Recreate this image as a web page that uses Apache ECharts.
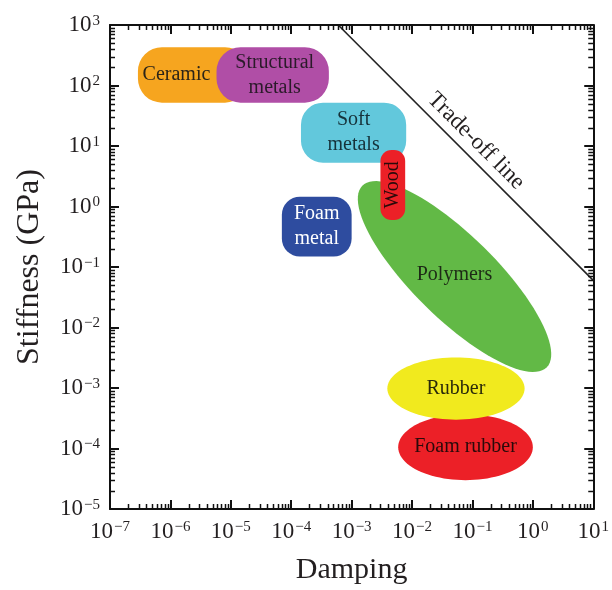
<!DOCTYPE html>
<html>
<head>
<meta charset="utf-8">
<script src="https://cdn.jsdelivr.net/npm/echarts@6/dist/echarts.min.js"></script>
<style>
html, body { margin: 0; padding: 0; background: #fff; }
#chart { width: 612px; height: 590px; }
</style>
</head>
<body>
<div id="chart"></div>
<script>
// Material families on a damping–stiffness map (log–log axes)
const materials     = ['Ceramic', 'Structural metals', 'Soft metals', 'Foam metal', 'Polymers', 'Wood', 'Foam rubber', 'Rubber'];
const dampingLow    = [2.9e-7, 5.8e-6, 1.45e-4, 7.0e-5, 1.5e-3, 3.0e-3, 5.9e-3, 3.9e-3];
const dampingHigh   = [2.0e-5, 4.2e-4, 8.0e-3, 1.0e-3, 1.7, 7.7e-3, 1.0, 0.73];
const stiffnessLow  = [52, 52, 5.3, 0.149, 2.2e-3, 0.6, 3.0e-5, 3.0e-4];
const stiffnessHigh = [430, 430, 52, 1.45, 2.2, 8.6, 3.7e-4, 3.2e-3];

// Trade-off line (stiffness × damping ≈ constant)
const tradeOffDamping   = [6e-4, 10];
const tradeOffStiffness = [1000, 0.06];

// Decade exponents shown as tick labels
const dampingExponents   = [-7, -6, -5, -4, -3, -2, -1, 0, 1];
const stiffnessExponents = [-5, -4, -3, -2, -1, 0, 1, 2, 3];

const FONT = "'Liberation Serif', 'DejaVu Serif', 'Times New Roman', serif";
const INK = '#231f20';

const looks = {
  'Ceramic':           { shape: 'box',    fill: '#F6A51F', r: 24, ink: '#2b2418', text: 'Ceramic', dx: -17 },
  'Structural metals': { shape: 'box',    fill: '#B04EA6', r: 24, ink: '#2b1a2a', text: 'Structural\nmetals', dx: 2 },
  'Soft metals':       { shape: 'box',    fill: '#62C8DC', r: 22, ink: '#16323a', text: 'Soft\nmetals' },
  'Foam metal':        { shape: 'box',    fill: '#2E4C9F', r: 18, ink: '#ffffff', text: 'Foam\nmetal' },
  'Polymers':          { shape: 'tilted', fill: '#62B946', ratio: 0.32, ink: '#1d2a16', text: 'Polymers', dy: -2 },
  'Wood':              { shape: 'box',    fill: '#EC2027', r: 11, ink: '#2a0a0a', text: 'Wood', vertical: true },
  'Foam rubber':       { shape: 'oval',   fill: '#EC2027', ink: '#2a0a0a', text: 'Foam rubber' },
  'Rubber':            { shape: 'oval',   fill: '#F1EA1E', ink: '#2a2a0a', text: 'Rubber' }
};

const regionData = materials.map((m, i) => ({
  name: m,
  value: [dampingLow[i], dampingHigh[i], stiffnessLow[i], stiffnessHigh[i]]
}));

function expLabel(v) {
  const e = Math.round(Math.log10(v));
  return '{b|10}{s|' + (e < 0 ? '\u2212' + (-e) : String(e)) + '}';
}

const labelRich = {
  b: { fontSize: 23, fontFamily: FONT, color: INK },
  s: { fontSize: 15, fontFamily: FONT, color: INK, verticalAlign: 'top', padding: [0, 0, 0, 1] }
};

const axisLineStyle = { lineStyle: { color: '#111', width: 2 } };
const axisTickStyle = { inside: true, length: 9, lineStyle: { color: '#111', width: 2 } };

const xMin = Math.pow(10, dampingExponents[0]);
const xMax = Math.pow(10, dampingExponents[dampingExponents.length - 1]);
const yMin = Math.pow(10, stiffnessExponents[0]);
const yMax = Math.pow(10, stiffnessExponents[stiffnessExponents.length - 1]);

function ovalPoints(cx, cy, a, b, phi) {
  const pts = [];
  const n = 96;
  const c = Math.cos(phi), s = Math.sin(phi);
  for (let k = 0; k < n; k++) {
    const t = (k / n) * Math.PI * 2;
    const u = a * Math.cos(t), w = b * Math.sin(t);
    pts.push([cx + u * c - w * s, cy + u * s + w * c]);
  }
  return pts;
}

function renderRegion(params, api) {
  const name = materials[params.dataIndex];
  const lk = looks[name];
  const p1 = api.coord([api.value(0), api.value(3)]);
  const p2 = api.coord([api.value(1), api.value(2)]);
  const cx = (p1[0] + p2[0]) / 2;
  const cy = (p1[1] + p2[1]) / 2;
  let body;
  if (lk.shape === 'box') {
    body = {
      type: 'rect',
      shape: { x: p1[0], y: p1[1], width: p2[0] - p1[0], height: p2[1] - p1[1], r: lk.r },
      style: { fill: lk.fill }
    };
  } else if (lk.shape === 'oval') {
    body = {
      type: 'polygon',
      shape: { points: ovalPoints(cx, cy, (p2[0] - p1[0]) / 2, (p2[1] - p1[1]) / 2, 0) },
      style: { fill: lk.fill }
    };
  } else {
    const dx = p2[0] - p1[0], dy = p2[1] - p1[1];
    const a = Math.sqrt(dx * dx + dy * dy) / 2;
    body = {
      type: 'polygon',
      shape: { points: ovalPoints(cx, cy, a, a * lk.ratio, Math.atan2(dy, dx)) },
      style: { fill: lk.fill }
    };
  }
  const label = {
    type: 'text',
    x: cx + (lk.dx || 0),
    y: cy + (lk.dy || 0),
    rotation: lk.vertical ? Math.PI / 2 : 0,
    style: {
      text: lk.text,
      fill: lk.ink,
      font: '20px ' + FONT,
      align: 'center',
      verticalAlign: 'middle',
      lineHeight: 25
    }
  };
  return { type: 'group', children: [body, label] };
}

// Logarithmic minor ticks (2…9 × 10^k) on all four sides of the frame
function renderMinorTicks(params, api) {
  const cs = params.coordSys;
  const left = cs.x, right = cs.x + cs.width, top = cs.y, bottom = cs.y + cs.height;
  const len = 5;
  const st = { stroke: '#111', lineWidth: 1.5 };
  const out = [];
  for (let i = 0; i < dampingExponents.length - 1; i++) {
    for (let m = 2; m <= 9; m++) {
      const px = Math.round(api.coord([m * Math.pow(10, dampingExponents[i]), yMin])[0]) + 0.5;
      out.push({ type: 'line', shape: { x1: px, y1: bottom, x2: px, y2: bottom - len }, style: st });
      out.push({ type: 'line', shape: { x1: px, y1: top, x2: px, y2: top + len }, style: st });
    }
  }
  for (let i = 0; i < stiffnessExponents.length - 1; i++) {
    for (let m = 2; m <= 9; m++) {
      const py = Math.round(api.coord([xMin, m * Math.pow(10, stiffnessExponents[i])])[1]) + 0.5;
      out.push({ type: 'line', shape: { x1: left, y1: py, x2: left + len, y2: py }, style: st });
      out.push({ type: 'line', shape: { x1: right, y1: py, x2: right - len, y2: py }, style: st });
    }
  }
  return { type: 'group', children: out };
}

// Label running along the trade-off line
const tradeOffLabelDamping = 0.075;
function renderTradeOffLabel(params, api) {
  const a = api.coord([tradeOffDamping[0], tradeOffStiffness[0]]);
  const b = api.coord([tradeOffDamping[1], tradeOffStiffness[1]]);
  const lx0 = Math.log10(tradeOffDamping[0]), lx1 = Math.log10(tradeOffDamping[1]);
  const ly0 = Math.log10(tradeOffStiffness[0]), ly1 = Math.log10(tradeOffStiffness[1]);
  const t = (Math.log10(tradeOffLabelDamping) - lx0) / (lx1 - lx0);
  const p = api.coord([tradeOffLabelDamping, Math.pow(10, ly0 + t * (ly1 - ly0))]);
  const ang = Math.atan2(b[1] - a[1], b[0] - a[0]);
  return {
    type: 'text',
    x: p[0],
    y: p[1],
    rotation: -ang,
    style: {
      text: 'Trade-off line',
      x: 0,
      y: -4,
      fill: INK,
      font: '23px ' + FONT,
      align: 'center',
      verticalAlign: 'bottom'
    }
  };
}

const chart = echarts.init(document.getElementById('chart'), null, { renderer: 'canvas' });

const baseX = {
  type: 'log', logBase: 10, min: xMin, max: xMax, interval: 1,
  axisLine: axisLineStyle, axisTick: axisTickStyle, splitLine: { show: false }
};
const baseY = {
  type: 'log', logBase: 10, min: yMin, max: yMax, interval: 1,
  axisLine: axisLineStyle, axisTick: axisTickStyle, splitLine: { show: false }
};

chart.setOption({
  backgroundColor: '#ffffff',
  animation: false,
  grid: { left: 110, right: 16, top: 25, bottom: 80, containLabel: false },
  xAxis: [
    Object.assign({}, baseX, {
      position: 'bottom',
      name: 'Damping',
      nameLocation: 'middle',
      nameGap: 46,
      nameTextStyle: { fontFamily: FONT, fontSize: 30, color: INK },
      axisLabel: { formatter: expLabel, rich: labelRich, margin: 11, showMinLabel: true, showMaxLabel: true }
    }),
    Object.assign({}, baseX, { position: 'top', axisLabel: { show: false } })
  ],
  yAxis: [
    Object.assign({}, baseY, {
      position: 'left',
      name: 'Stiffness (GPa)',
      nameLocation: 'middle',
      nameGap: 64,
      nameTextStyle: { fontFamily: FONT, fontSize: 32, color: INK },
      axisLabel: { formatter: expLabel, rich: labelRich, margin: 10, showMinLabel: true, showMaxLabel: true }
    }),
    Object.assign({}, baseY, { position: 'right', axisLabel: { show: false } })
  ],
  series: [
    {
      type: 'custom',
      name: 'regions',
      xAxisIndex: 0, yAxisIndex: 0,
      renderItem: renderRegion,
      encode: { x: [0, 1], y: [2, 3] },
      data: regionData,
      clip: false,
      z: 2
    },
    {
      type: 'line',
      name: 'Trade-off line',
      xAxisIndex: 0, yAxisIndex: 0,
      data: tradeOffDamping.map((d, i) => [d, tradeOffStiffness[i]]),
      showSymbol: false,
      symbol: 'none',
      lineStyle: { color: '#222', width: 1.6 },
      z: 3
    },
    {
      type: 'custom',
      name: 'trade-off label',
      xAxisIndex: 0, yAxisIndex: 0,
      renderItem: renderTradeOffLabel,
      data: [[tradeOffLabelDamping, 1]],
      clip: false,
      z: 4
    },
    {
      type: 'custom',
      name: 'minor ticks',
      xAxisIndex: 0, yAxisIndex: 0,
      renderItem: renderMinorTicks,
      data: [[1, 1]],
      clip: false,
      silent: true,
      z: 5
    }
  ]
});
</script>
</body>
</html>
